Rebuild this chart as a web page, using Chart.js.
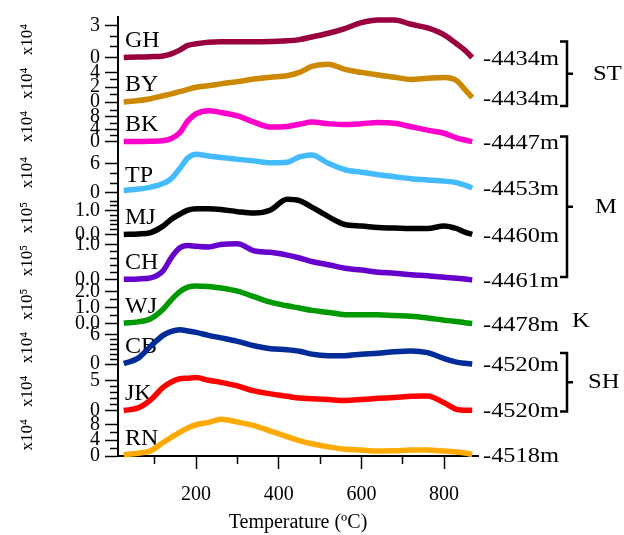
<!DOCTYPE html>
<html>
<head>
<meta charset="utf-8">
<script src="https://cdn.jsdelivr.net/npm/chart.js@4.4.1/dist/chart.umd.min.js"></script>
<style>
  html, body { margin: 0; padding: 0; background: #fff; }
</style>
</head>
<body>
<canvas id="tgaChart" width="624" height="535"></canvas>
<script>
// shared temperature grid (deg C)
const temps = [25, 60, 90, 120, 140, 160, 180, 200, 230, 260, 300, 340, 380, 420, 450, 480, 520, 560, 600, 640, 680, 720, 760, 800, 830, 850, 868];

// samples, top to bottom
const samples = ['GH', 'BY', 'BK', 'TP', 'MJ', 'CH', 'WJ', 'CB', 'JK', 'RN'];
const depths = ['-4434m', '-4434m', '-4447m', '-4453m', '-4460m', '-4461m', '-4478m', '-4520m', '-4520m', '-4518m'];
const exponents = ['⁴', '⁴', '⁴', '⁴', '⁵', '⁵', '⁵', '⁴', '⁴', '⁴'];

// intensities (in units of each panel's multiplier)
const ghVals = [0.0, 0.05, 0.08, 0.15, 0.35, 0.7, 1.15, 1.3, 1.45, 1.5, 1.5, 1.5, 1.52, 1.58, 1.7, 1.95, 2.3, 2.75, 3.3, 3.55, 3.55, 3.15, 2.8, 2.15, 1.3, 0.7, 0.0];
const byVals = [0.0, 0.2, 0.45, 0.85, 1.1, 1.4, 1.7, 2.0, 2.2, 2.45, 2.75, 3.1, 3.35, 3.55, 4.0, 4.8, 5.1, 4.4, 4.0, 3.65, 3.35, 3.05, 3.2, 3.3, 2.9, 1.7, 0.6];
const bkVals = [0, 0, 0.1, 0.3, 1.0, 2.8, 6.7, 9.0, 10.0, 9.4, 8.3, 6.3, 4.7, 4.9, 5.6, 6.3, 5.8, 5.5, 5.8, 6.2, 5.9, 4.8, 3.7, 2.7, 1.2, 0.5, 0];
const tpVals = [0.5, 0.8, 1.2, 1.9, 2.9, 4.9, 7.1, 7.85, 7.5, 7.2, 6.8, 6.5, 6.1, 6.2, 7.3, 7.7, 6.0, 4.7, 4.2, 3.7, 3.3, 2.9, 2.65, 2.4, 2.1, 1.6, 1.0];
const mjVals = [0, 0.02, 0.08, 0.35, 0.64, 0.85, 1.02, 1.08, 1.08, 1.05, 0.96, 0.9, 1.03, 1.48, 1.42, 1.15, 0.75, 0.42, 0.36, 0.29, 0.27, 0.25, 0.25, 0.36, 0.25, 0.1, 0];
const chVals = [0.02, 0.03, 0.06, 0.26, 0.63, 0.9, 0.97, 0.95, 0.93, 1.0, 1.02, 0.82, 0.78, 0.7, 0.62, 0.52, 0.43, 0.33, 0.28, 0.22, 0.19, 0.15, 0.12, 0.08, 0.05, 0.03, 0.0];
const wjVals = [0.03, 0.1, 0.3, 0.9, 1.5, 2.0, 2.3, 2.38, 2.34, 2.25, 2.05, 1.7, 1.35, 1.12, 0.98, 0.83, 0.7, 0.56, 0.55, 0.56, 0.5, 0.46, 0.35, 0.21, 0.12, 0.05, 0.0];
const cbVals = [0.1, 1.2, 3.6, 5.8, 6.6, 6.95, 6.7, 6.4, 5.8, 5.3, 4.6, 3.7, 3.1, 2.9, 2.6, 2.0, 1.7, 1.7, 2.0, 2.2, 2.5, 2.65, 2.3, 1.1, 0.4, 0.15, 0.0];
const jkVals = [0, 0.45, 1.8, 3.9, 4.8, 5.35, 5.45, 5.55, 5.1, 4.75, 4.15, 3.3, 2.8, 2.4, 2.1, 2.0, 1.85, 1.7, 1.85, 2.05, 2.2, 2.4, 2.45, 1.3, 0.2, 0.05, 0.05];
const rnVals = [0.3, 0.7, 1.3, 3.4, 4.7, 6.0, 7.1, 7.9, 8.5, 9.3, 8.6, 7.7, 6.3, 4.9, 3.9, 3.1, 2.3, 1.7, 1.5, 1.25, 1.35, 1.5, 1.5, 1.25, 1.0, 0.75, 0.4];
const seriesVals = [ghVals, byVals, bkVals, tpVals, mjVals, chVals, wjVals, cbVals, jkVals, rnVals];

// tick marks and labelled ticks of each panel
const panelTicks = [
  [0, 1, 2, 3],
  [0, 1, 2, 3, 4],
  [0, 2, 4, 6, 8, 10],
  [0, 2, 4, 6],
  [0, 0.2, 0.4, 0.6, 0.8, 1.0, 1.2, 1.4],
  [0, 0.2, 0.4, 0.6, 0.8, 1.0],
  [0, 0.5, 1.0, 1.5, 2.0],
  [0, 1, 2, 3, 4, 5, 6],
  [0, 1, 2, 3, 4, 5],
  [0, 2, 4, 6, 8]
];
const panelLabels = [[0, 3], [0, 2, 4], [0, 4, 8], [0, 6], [0, 1], [0, 1], [0, 1, 2], [0, 6], [0, 5], [0, 4, 8]];
const decimals = [0, 0, 0, 0, 1, 1, 1, 0, 0, 0];

const xTicks = [100, 200, 300, 400, 500, 600, 700, 800];
const xLabels = [200, 400, 600, 800];

// axis ranges / panel heights
const panelMin = [-0.42, -0.33, -2.24, -0.7, -0.17, -0.07, -0.16, -1.0, -0.5, 0];
const panelMax = [3.84, 5.4, 12, 9, 1.6, 1.17, 2.6, 7.7, 7.0, 10.75];
const panelHeights = [45.5, 43, 44.5, 48.5, 42.5, 44.5, 44, 43.5, 45, 43];

const lineColors = ['#99003d', '#cc8800', '#ff00cc', '#44bbff', '#000000', '#6600cc', '#009900', '#002b99', '#ff0000', '#ffaa00'];

const serif = "'Liberation Serif', 'Times New Roman', serif";

// bracket groups on the right
const groups = [
  { name: 'ST', from: 'GH', to: 'BY', padTop: -16, padBottom: 4, labelDx: 115 },
  { name: 'M', from: 'BK', to: 'CH', padTop: -5, padBottom: -3, labelDx: 117 },
  { name: 'K', from: 'WJ', to: null, padTop: -2, padBottom: 0, labelDx: 94 },
  { name: 'SH', from: 'CB', to: 'JK', padTop: -11, padBottom: 1, labelDx: 110 }
];

const annotate = {
  id: 'annotate',
  beforeDatasetsDraw(chart) {
    const ctx = chart.ctx;
    ctx.save();
    ctx.fillStyle = '#000';
    ctx.textBaseline = 'middle';
    ctx.font = '24px ' + serif;
    samples.forEach((name) => {
      const y = chart.scales['y' + name].getPixelForValue(0) - 17;
      ctx.fillText(name, chart.chartArea.left + 7, y);
    });
    ctx.restore();
  },
  afterDraw(chart) {
    const ctx = chart.ctx;
    const right = chart.chartArea.right;
    ctx.save();
    ctx.fillStyle = '#000';
    ctx.textBaseline = 'middle';
    ctx.font = '20px ' + serif;
    samples.forEach((name, i) => {
      const vals = seriesVals[i];
      const y = chart.scales['y' + name].getPixelForValue(vals[vals.length - 1]) + 2;
      ctx.save();
      ctx.translate(right + 5, y);
      ctx.scale(1.22, 1);
      ctx.fillText(depths[i], 0, 0);
      ctx.restore();
    });

    ctx.strokeStyle = '#000';
    ctx.lineWidth = 2.5;
    ctx.font = '22px ' + serif;
    const bx = right + 89;
    groups.forEach((g) => {
      const top = chart.scales['y' + g.from].getPixelForValue(0) + g.padTop;
      let mid = top;
      if (g.to) {
        const bottom = chart.scales['y' + g.to].getPixelForValue(0) + g.padBottom;
        mid = (top + bottom) / 2;
        ctx.beginPath();
        ctx.moveTo(bx - 7, top);
        ctx.lineTo(bx, top);
        ctx.lineTo(bx, bottom);
        ctx.lineTo(bx - 7, bottom);
        ctx.moveTo(bx, mid);
        ctx.lineTo(bx + 6, mid);
        ctx.stroke();
      }
      ctx.save();
      ctx.translate(right + g.labelDx, mid);
      ctx.scale(1.12, 1);
      ctx.fillText(g.name, 0, 0);
      ctx.restore();
    });
    ctx.restore();
  }
};

const scales = {};
// bottom panel first so the top panel ends up on top of the stack
for (let i = samples.length - 1; i >= 0; i--) {
  const ticksAt = panelTicks[i];
  const labelled = panelLabels[i];
  const dec = decimals[i];
  scales['y' + samples[i]] = {
    type: 'linear',
    position: 'left',
    stack: 'panels',
    stackWeight: panelHeights[i],
    min: panelMin[i],
    max: panelMax[i],
    afterFit: (s) => { s.width = 118; },
    afterBuildTicks: (s) => { s.ticks = ticksAt.map(v => ({ value: v })); },
    title: {
      display: true,
      text: 'x10' + exponents[i],
      color: '#000',
      font: { family: serif, size: 17 },
      padding: { top: 17, bottom: 0 }
    },
    border: { display: true, color: '#000', width: 2 },
    grid: {
      drawOnChartArea: false,
      drawTicks: true,
      tickLength: 13,
      tickColor: '#000',
      tickWidth: 1.5,
      tickBorderDash: (c) => (c.tick && labelled.includes(c.tick.value)) ? [] : [0, 5, 8, 100]
    },
    ticks: {
      autoSkip: false,
      padding: 5,
      color: '#000',
      font: { family: serif, size: 20 },
      callback: (v) => labelled.includes(v) ? v.toFixed(dec) : ''
    }
  };
}
scales.x = {
  type: 'linear',
  position: 'bottom',
  min: 11,
  max: 882,
  afterFit: (s) => { s.height = 79; },
  afterBuildTicks: (s) => { s.ticks = xTicks.map(v => ({ value: v })); },
  border: { display: true, color: '#000', width: 2 },
  grid: {
    drawOnChartArea: false,
    tickLength: 13,
    tickColor: '#000',
    tickWidth: 1.5,
    tickBorderDash: (c) => (c.tick && xLabels.includes(c.tick.value)) ? [] : [7, 100]
  },
  ticks: {
    autoSkip: false,
    maxRotation: 0,
    padding: 14,
    color: '#000',
    font: { family: serif, size: 20 },
    callback: (v) => xLabels.includes(v) ? String(v) : ''
  },
  title: {
    display: true,
    text: 'Temperature (ºC)',
    color: '#000',
    font: { family: serif, size: 20 },
    padding: { top: 0, bottom: 0 }
  }
};

const datasets = samples.map((name, i) => ({
  label: name,
  data: temps.map((t, j) => ({ x: t, y: seriesVals[i][j] })),
  xAxisID: 'x',
  yAxisID: 'y' + name,
  borderColor: lineColors[i],
  backgroundColor: lineColors[i],
  borderWidth: 5.5,
  pointRadius: 0,
  cubicInterpolationMode: 'monotone',
  clip: false
}));

new Chart(document.getElementById('tgaChart'), {
  type: 'line',
  data: { datasets },
  options: {
    responsive: false,
    animation: false,
    layout: { padding: { top: 12, right: 146, bottom: 0, left: 0 } },
    plugins: { legend: { display: false }, tooltip: { enabled: false } },
    scales
  },
  plugins: [annotate]
});
</script>
</body>
</html>
